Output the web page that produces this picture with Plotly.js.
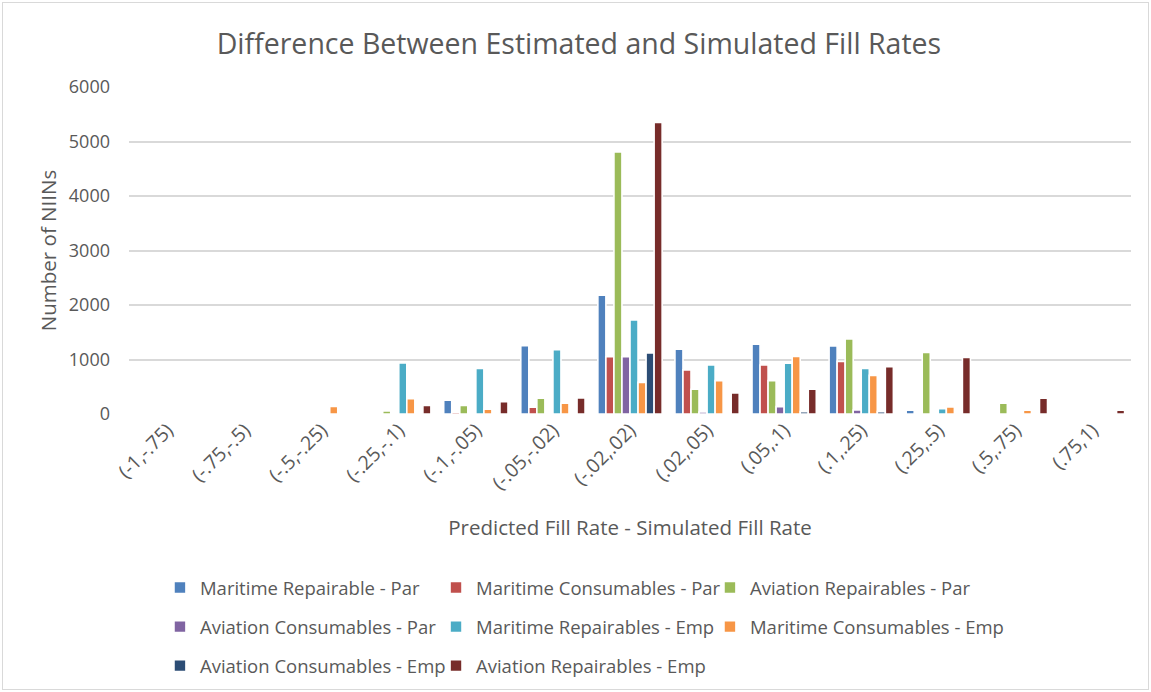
<!DOCTYPE html>
<html>
<head>
<meta charset="utf-8">
<script src="https://cdn.plot.ly/plotly-3.0.1.min.js"></script>
<style>
html,body{margin:0;padding:0;background:#fff;}
#chart{width:1151px;height:692px;}
#frame{position:absolute;left:2px;top:2px;width:1145px;height:686px;border:1px solid #d9d9d9;pointer-events:none;}
</style>
</head>
<body>
<div id="chart"></div>
<div id="frame"></div>
<script>
const categories = ['(-1,-.75)','(-.75,-.5)','(-.5,-.25)','(-.25,-.1)','(-.1,-.05)','(-.05,-.02)','(-.02,.02)','(.02,.05)','(.05,.1)','(.1,.25)','(.25,.5)','(.5,.75)','(.75,1)'];

const seriesNames = [
  'Maritime Repairable - Par',
  'Maritime Consumables - Par',
  'Aviation Repairables - Par',
  'Aviation Consumables - Par',
  'Maritime Repairables - Emp',
  'Maritime Consumables - Emp',
  'Aviation Consumables - Emp',
  'Aviation Repairables - Emp'
];

const maritimeRepairablePar   = [null,null,null,null,252,1255,2180,1190,1280,1250,70,null,null];
const maritimeConsumablesPar  = [null,null,null,null,31,125,1050,810,900,966,null,null,null];
const aviationRepairablesPar  = [null,null,null,57,157,290,4810,453,612,1376,1130,199,null];
const aviationConsumablesPar  = [null,null,null,null,null,null,1050,37,135,73,null,null,null];
const maritimeRepairablesEmp  = [null,null,null,937,836,1180,1725,899,930,838,99,null,null];
const maritimeConsumablesEmp  = [null,null,140,283,88,196,581,612,1058,709,130,68,null];
const aviationConsumablesEmp  = [null,null,null,null,null,null,1119,null,43,43,null,null,null];
const aviationRepairablesEmp  = [null,null,null,157,224,294,5350,385,453,869,1037,292,68];

const seriesValues = [maritimeRepairablePar, maritimeConsumablesPar, aviationRepairablesPar, aviationConsumablesPar,
  maritimeRepairablesEmp, maritimeConsumablesEmp, aviationConsumablesEmp, aviationRepairablesEmp];

const colors = ['#4F81BD','#C0504D','#9BBB59','#8064A2','#4BACC6','#F79646','#2C4D75','#772C2A'];

const yTicks = [0,1000,2000,3000,4000,5000,6000];

// legend column for each series (legend reads row by row, 3 per row)
const legendCols = ['legend','legend2','legend3','legend','legend2','legend3','legend','legend2'];

const FONT = 'Open Sans, Noto Sans, sans-serif';
const TXT = '#595959';

const traces = seriesNames.map((name, i) => ({
  type: 'bar',
  name: name,
  x: categories,
  y: seriesValues[i],
  legend: legendCols[i],
  legendgroup: 'g' + i,
  marker: {color: colors[i], line: {color: '#ffffff', width: 1.6}},
  hoverinfo: 'x+y+name'
}));

function legendCol(xp) {
  return {
    orientation: 'v',
    x: xp, xanchor: 'left',
    yref: 'container',
    y: 0.1777, yanchor: 'top',
    tracegroupgap: 12,
    bgcolor: 'rgba(0,0,0,0)',
    font: {family: FONT, size: 18.5, color: TXT},
    traceorder: 'grouped'
  };
}

const layout = {
  width: 1151,
  height: 692,
  margin: {l: 129, r: 20, t: 87, b: 278},
  paper_bgcolor: '#ffffff',
  plot_bgcolor: '#ffffff',
  font: {family: FONT, color: TXT, size: 18},
  title: {text: 'Difference Between Estimated and Simulated Fill Rates', font: {family: FONT, size: 28.5, color: TXT}, x: 0.503, xanchor: 'center', y: 0.937, yanchor: 'middle'},
  barmode: 'group',
  bargap: 0.166,
  bargroupgap: 0,
  showlegend: true,
  legend: legendCol(0.0309),
  legend2: legendCol(0.3064),
  legend3: legendCol(0.5798),
  xaxis: {
    type: 'category',
    tickangle: -45,
    tickfont: {family: FONT, size: 19.5, color: TXT},
    showgrid: false,
    showline: false,
    ticks: '',
    zeroline: false,
    title: {text: 'Predicted Fill Rate - Simulated Fill Rate', font: {family: FONT, size: 20.5, color: TXT}, standoff: 26}
  },
  yaxis: {
    range: [0, 6000],
    tickvals: yTicks,
    ticktext: yTicks.map(String),
    tickfont: {family: FONT, size: 18, color: TXT},
    ticklabelstandoff: 18,
    showgrid: true,
    gridcolor: '#d9d9d9',
    gridwidth: 1.5,
    zeroline: false,
    showline: false,
    ticks: '',
    ticklen: 0,
    title: {text: 'Number of NIINs', font: {family: FONT, size: 20.5, color: TXT}, standoff: 6}
  }
};

Plotly.newPlot('chart', traces, layout, {displayModeBar: false, responsive: false});
</script>
</body>
</html>
